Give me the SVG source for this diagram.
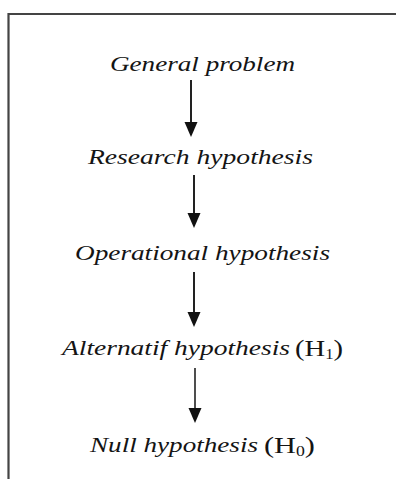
<svg xmlns="http://www.w3.org/2000/svg" width="396" height="479" viewBox="0 0 396 479">
  <style>
    .frame { fill: none; stroke: #444; stroke-width: 2.2; }
    .label { font-family: "Liberation Serif", "Times New Roman", serif; font-size: 21px; fill: #141414; }
    .it { font-style: italic; }
    .up { font-size: 24px; }
    .sub { font-size: 14px; }
    .link { stroke: #222; stroke-width: 2; fill: none; }
    .head { fill: #111; }
  </style>

  <rect width="396" height="479" fill="#fff"/>
  <!-- outer frame, open past the right and bottom edges -->
  <path class="frame" d="M8.5,490 L8.5,14 L400,14"/>

  <g id="connectors">
    <line class="link" x1="191" y1="80" x2="191" y2="123"/>
    <path class="head" d="M184.5,122 L197.5,122 L191,137 Z"/>
    <line class="link" x1="194" y1="175" x2="194" y2="214"/>
    <path class="head" d="M187.5,213 L200.5,213 L194,228 Z"/>
    <line class="link" x1="194" y1="272" x2="194" y2="313"/>
    <path class="head" d="M187.5,312 L200.5,312 L194,327 Z"/>
    <line class="link" x1="195" y1="368" x2="195" y2="409" style="stroke-width:1.6"/>
    <path class="head" d="M188.5,408 L201.5,408 L195,423 Z"/>
  </g>

  <g id="general-problem">
    <text class="label it" x="110" y="71" textLength="185" lengthAdjust="spacingAndGlyphs">General problem</text>
  </g>
  <g id="research-hypothesis">
    <text class="label it" x="88" y="164" textLength="225" lengthAdjust="spacingAndGlyphs">Research hypothesis</text>
  </g>
  <g id="operational-hypothesis">
    <text class="label it" x="75" y="260" textLength="255" lengthAdjust="spacingAndGlyphs">Operational hypothesis</text>
  </g>
  <g id="alternative-hypothesis">
    <text class="label it" x="62" y="355" textLength="228" lengthAdjust="spacingAndGlyphs">Alternatif hypothesis</text>
    <text class="label up" x="295" y="356" textLength="48" lengthAdjust="spacingAndGlyphs">(H<tspan class="sub" dy="3">1</tspan><tspan dy="-3">)</tspan></text>
  </g>
  <g id="null-hypothesis">
    <text class="label it" x="90" y="452" textLength="168" lengthAdjust="spacingAndGlyphs">Null hypothesis</text>
    <text class="label up" x="264" y="453" textLength="51" lengthAdjust="spacingAndGlyphs">(H<tspan class="sub" dy="3">0</tspan><tspan dy="-3">)</tspan></text>
  </g>
</svg>
